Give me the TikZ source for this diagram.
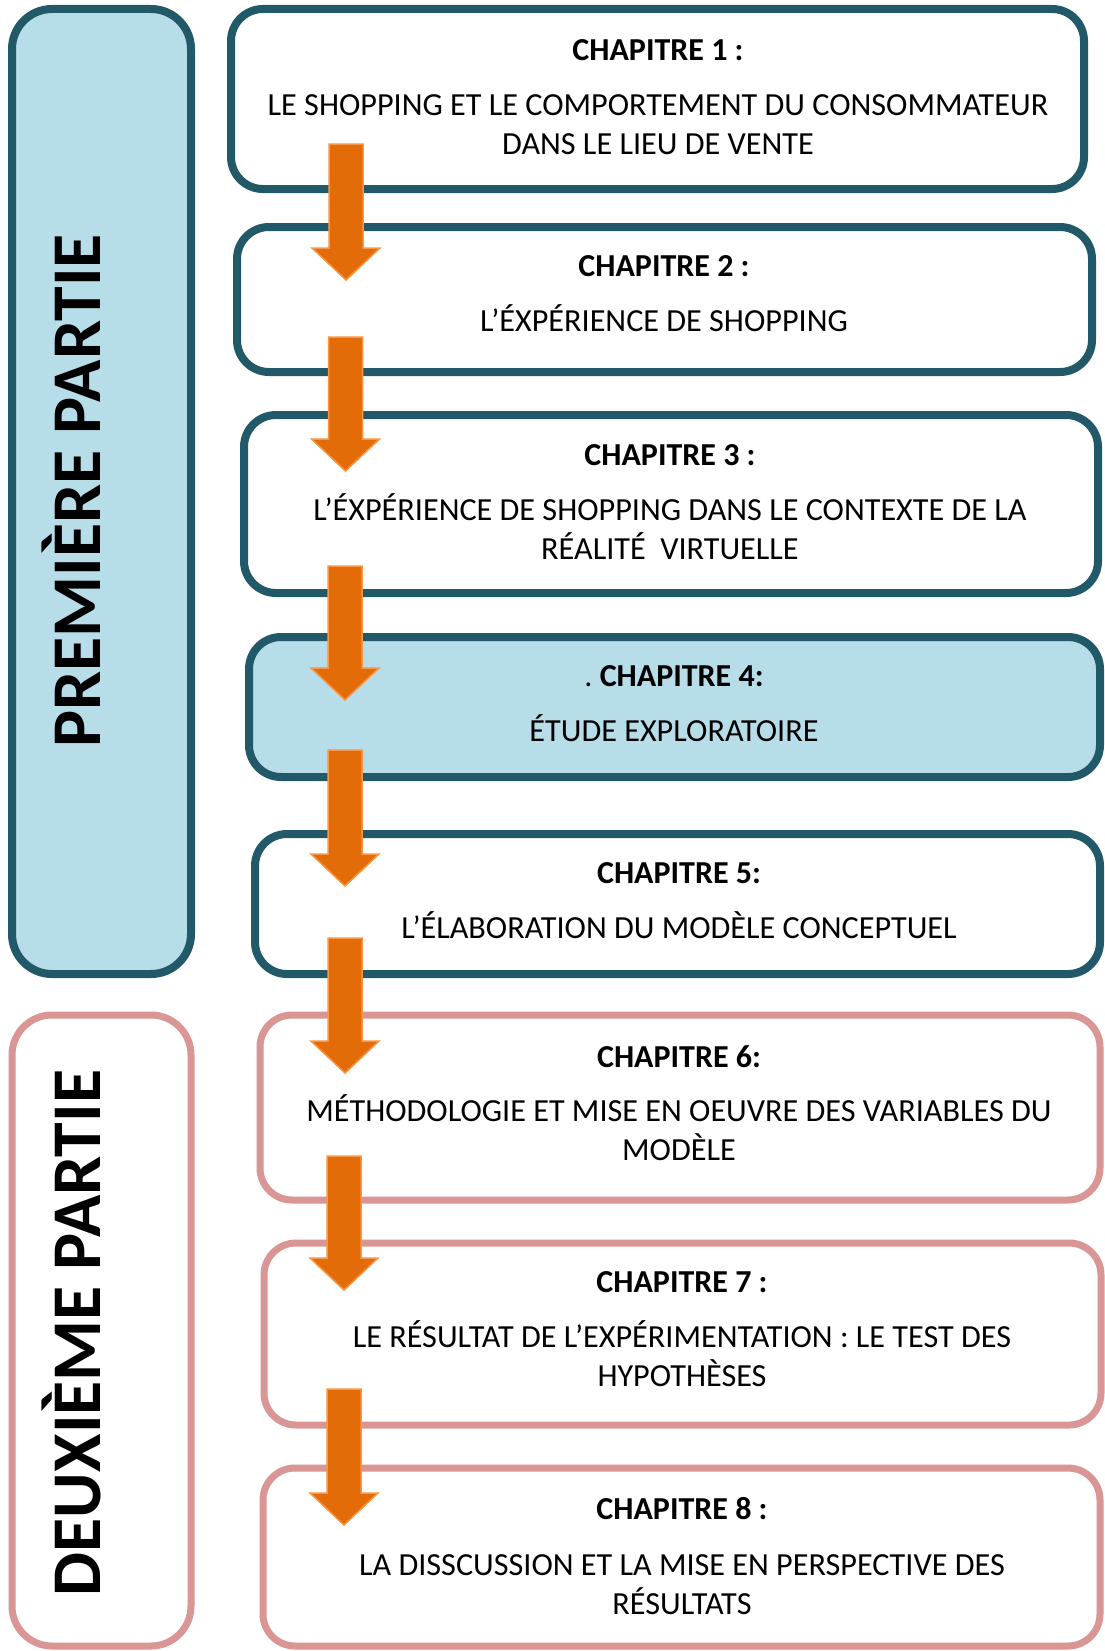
\documentclass[tikz,border=0pt]{standalone}
\usepackage{fontspec}
\setmainfont{Carlito}
\definecolor{teal5}{HTML}{215968}
\definecolor{lblue}{HTML}{B7DDE8}
\definecolor{pinkb}{HTML}{D99694}
\definecolor{orfill}{HTML}{E36C09}
\definecolor{oredge}{HTML}{F79646}
\newcommand\blkarrow[4]{% name, x center, top y, tip y
  \draw[blockarrow] (#2-17,#3) -- (#2+17,#3) -- (#2+17,#4-32) -- (#2+34,#4-32)
    -- (#2,#4) coordinate (#1) -- (#2-34,#4-32) -- (#2-17,#4-32) -- cycle;}
\begin{document}
\begin{tikzpicture}[x=1pt,y=-1pt,
  panel/.style={draw, rounded corners=40pt, inner sep=0pt},
  bluepanel/.style={panel, draw=teal5, line width=8pt, fill=lblue},
  pinkpanel/.style={panel, draw=pinkb, line width=7pt, fill=white},
  chapbox/.style={draw=teal5, line width=8pt, rounded corners=32pt, fill=white, inner sep=0pt},
  chapboxblue/.style={chapbox, fill=lblue},
  chappink/.style={draw=pinkb, line width=7pt, rounded corners=32pt, fill=white, inner sep=0pt},
  ttl/.style={anchor=base, inner sep=0pt, font=\bfseries\fontsize{32}{38}\selectfont},
  txt/.style={anchor=base, inner sep=0pt, font=\fontsize{32.2}{38}\selectfont},
  vlabel/.style={anchor=base, rotate=90, inner sep=0pt, font=\bfseries\fontsize{69.8}{80}\selectfont},
  blockarrow/.style={fill=orfill, draw=oredge, line width=1.5pt, line join=miter}]
\useasboundingbox (0,0) rectangle (1104,1651);
\fill[white] (0,0) rectangle (1104,1651);

% parts
\node[bluepanel, minimum width=179pt, minimum height=965pt] (p1) at (101.5,491.5) {};
\node[pinkpanel, minimum width=179pt, minimum height=631pt] (p2) at (101.5,1330.5) {};
\node[vlabel] (p1t) at (100,491) {PREMIÈRE PARTIE};
\node[vlabel] (p2t) at (100,1333) {DEUXIÈME PARTIE};

% chapter boxes
\node[chapbox, minimum width=853pt, minimum height=180pt] (c1) at (657.5,99) {};
\node[chapbox, minimum width=855pt, minimum height=145pt] (c2) at (664.5,299.5) {};
\node[chapbox, minimum width=854pt, minimum height=178pt] (c3) at (671,504) {};
\node[chapboxblue, minimum width=851pt, minimum height=140pt] (c4) at (674.5,707) {};
\node[chapbox, minimum width=845pt, minimum height=140pt] (c5) at (677.5,904) {};
\node[chappink, minimum width=840pt, minimum height=185pt] (c6) at (680,1107.5) {};
\node[chappink, minimum width=837pt, minimum height=182pt] (c7) at (682.5,1334) {};
\node[chappink, minimum width=837pt, minimum height=178pt] (c8) at (681.5,1557) {};

% texts
\node[ttl] (t1) at (658,61) {CHAPITRE 1 :};
\node[txt] (t1a) at (658,116) {LE SHOPPING ET LE COMPORTEMENT DU CONSOMMATEUR};
\node[txt] (t1b) at (658,154.5) {DANS LE LIEU DE VENTE};

\node[ttl] (t2) at (664,276.5) {CHAPITRE 2 :};
\node[txt] (t2a) at (664,331) {L’ÉXPÉRIENCE DE SHOPPING};

\node[ttl] (t3) at (670,465) {CHAPITRE 3 :};
\node[txt] (t3a) at (670,520) {L’ÉXPÉRIENCE DE SHOPPING DANS LE CONTEXTE DE LA};
\node[txt] (t3b) at (670,559) {RÉALITÉ\ \ VIRTUELLE};

\node[ttl] (t4) at (674,686) {\mdseries.\ \bfseries CHAPITRE 4:};
\node[txt] (t4a) at (674,741) {ÉTUDE EXPLORATOIRE};

\node[ttl] (t5) at (679,883) {CHAPITRE 5:};
\node[txt] (t5a) at (679,938) {L’ÉLABORATION DU MODÈLE CONCEPTUEL};

\node[ttl] (t6) at (679,1067) {CHAPITRE 6:};
\node[txt] (t6a) at (679,1121.5) {MÉTHODOLOGIE ET MISE EN OEUVRE DES VARIABLES DU};
\node[txt] (t6b) at (679,1160) {MODÈLE};

\node[ttl] (t7) at (682,1292) {CHAPITRE 7 :};
\node[txt] (t7a) at (682,1347) {LE RÉSULTAT DE L’EXPÉRIMENTATION : LE TEST DES};
\node[txt] (t7b) at (682,1386) {HYPOTHÈSES};

\node[ttl] (t8) at (682,1519.5) {CHAPITRE 8 :};
\node[txt] (t8a) at (682,1575) {LA DISSCUSSION ET LA MISE EN PERSPECTIVE DES};
\node[txt] (t8b) at (682,1614) {RÉSULTATS};

% arrows
\blkarrow{a1}{346}{144}{280}
\blkarrow{a2}{345.5}{337}{471}
\blkarrow{a3}{345}{566}{700}
\blkarrow{a4}{345}{750}{886}
\blkarrow{a5}{345}{938}{1073}
\blkarrow{a6}{344}{1156}{1290}
\blkarrow{a7}{344}{1389}{1525}
\end{tikzpicture}
\end{document}
